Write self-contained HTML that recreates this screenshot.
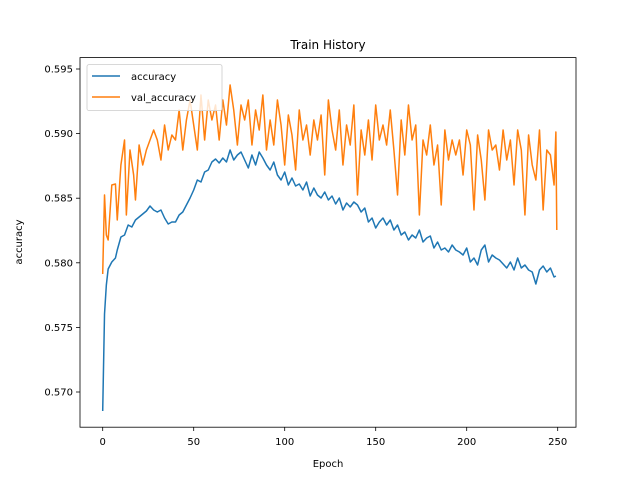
<!DOCTYPE html>
<html><head><meta charset="utf-8"><style>body{margin:0;background:#fff}svg{display:block;font-family:"DejaVu Sans","Liberation Sans",sans-serif}</style></head>
<body>
<svg width="640" height="480" viewBox="0 0 640 480">
<rect width="640" height="480" fill="#fff"/>
<g transform="translate(102.7,0) scale(1.82,1)" fill="none" stroke-width="1.5" stroke-linejoin="round">
<polyline vector-effect="non-scaling-stroke" stroke="#1f77b4" points="0,411 1,314 2,285 3,269 5,262 7,258 8,250 10,237 12,235 14,225 16,227 18,220 20,217 22,214 24,211 26,206 28,210 30,212 32,210 34,218 36,224 38,222 40,222 42,215 44,212 46,205 48,198 50,190 52,180 54,182 56,172 58,170 60,162 62,159 64,163 66,158 68,162 70,150 72,160 74,155 76,152 78,160 80,168 82,155 84,165 86,152 88,158 90,165 92,170 94,162 96,175 98,180 100,172 102,185 104,178 106,186 108,184 110,190 112,182 114,196 116,188 118,195 120,198 122,192 124,200 126,196 128,204 130,198 132,210 134,203 136,207 138,202 140,205 142,212 144,208 146,222 148,218 150,228 152,222 154,218 156,225 158,220 160,230 162,225 164,235 166,232 168,240 170,235 172,238 174,230 176,242 178,238 180,236 182,248 184,242 186,250 188,248 190,252 192,245 194,250 196,252 198,255 200,248 202,262 204,258 206,265 208,250 210,245 212,262 214,255 216,258 218,260 220,264 222,268 224,262 226,270 228,258 230,268 232,265 234,270 236,272 238,284 240,270 242,266 244,272 246,268 248,277 249,276"/>
<polyline vector-effect="non-scaling-stroke" stroke="#ff7f0e" points="0,274 1,195 2,235 3,240 5,185 7,184 8,220 10,165 12,140 13,215 15,150 17,175 18,200 20,145 22,165 24,150 26,140 28,130 30,140 32,160 34,125 36,150 38,135 40,140 42,110 44,150 46,120 48,100 50,125 52,150 54,95 56,140 58,100 60,120 62,105 64,140 66,100 68,125 70,85 72,110 74,145 76,105 78,120 80,100 82,145 84,110 86,130 88,95 90,150 92,120 94,145 96,100 98,125 100,165 102,115 104,135 106,170 108,110 110,140 112,125 114,155 116,120 118,140 120,115 122,175 124,100 126,130 128,150 130,110 132,165 134,125 136,145 138,105 140,195 142,130 144,155 146,120 148,160 150,105 152,140 154,125 156,145 158,110 160,150 162,195 164,120 166,155 168,105 170,140 172,125 174,215 176,140 178,155 180,125 182,165 184,145 186,205 188,130 190,160 192,140 194,155 196,140 198,175 200,130 202,145 204,210 206,135 208,160 210,200 212,130 214,150 216,145 218,170 220,130 222,160 224,140 226,185 228,130 230,150 232,215 234,135 236,165 238,180 240,130 242,210 244,150 246,155 248,185 249,132 249.5,230"/>
</g>
<rect x="80" y="57.6" width="496" height="369.6" fill="none" stroke="#000" stroke-width="0.8"/>
<g stroke="#000" stroke-width="0.8">
<line x1="102.7" y1="427" x2="102.7" y2="431"/><line x1="193.7" y1="427" x2="193.7" y2="431"/><line x1="284.7" y1="427" x2="284.7" y2="431"/><line x1="375.7" y1="427" x2="375.7" y2="431"/><line x1="466.7" y1="427" x2="466.7" y2="431"/><line x1="557.7" y1="427" x2="557.7" y2="431"/>
<line x1="76" y1="69" x2="80" y2="69"/><line x1="76" y1="133.6" x2="80" y2="133.6"/><line x1="76" y1="198.2" x2="80" y2="198.2"/><line x1="76" y1="262.8" x2="80" y2="262.8"/><line x1="76" y1="327.4" x2="80" y2="327.4"/><line x1="76" y1="392" x2="80" y2="392"/>
</g>
<g font-size="10" fill="#000" text-anchor="middle">
<text x="102.7" y="445">0</text><text x="193.7" y="445">50</text><text x="284.7" y="445">100</text><text x="375.7" y="445">150</text><text x="466.7" y="445">200</text><text x="557.7" y="445">250</text>
</g>
<g font-size="10" fill="#000" text-anchor="end">
<text x="73" y="72.5">0.595</text><text x="73" y="137">0.590</text><text x="73" y="201.7">0.585</text><text x="73" y="266.3">0.580</text><text x="73" y="331">0.575</text><text x="73" y="395.5">0.570</text>
</g>
<text x="328" y="49" font-size="12" text-anchor="middle">Train History</text>
<text x="328" y="467" font-size="10" text-anchor="middle">Epoch</text>
<text transform="translate(22,242) rotate(-90)" font-size="10" text-anchor="middle">accuracy</text>
<rect x="87" y="64.6" width="135" height="46" rx="2" fill="#fff" fill-opacity="0.8" stroke="#ccc" stroke-width="0.8"/>
<line x1="92" y1="76" x2="120" y2="76" stroke="#1f77b4" stroke-width="1.5"/>
<line x1="92" y1="97" x2="120" y2="97" stroke="#ff7f0e" stroke-width="1.5"/>
<text x="131" y="80" font-size="10">accuracy</text>
<text x="131" y="101" font-size="10">val_accuracy</text>
</svg>
</body></html>
